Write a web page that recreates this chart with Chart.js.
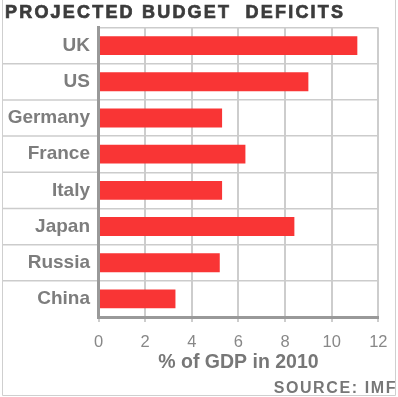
<!DOCTYPE html>
<html>
<head>
<meta charset="utf-8">
<script src="https://cdn.jsdelivr.net/npm/chart.js@4.4.1/dist/chart.umd.min.js"></script>
<style>
  html, body { margin: 0; padding: 0; background: #ffffff; }
  #wrap { position: absolute; left: 0; top: 0; width: 398px; height: 397px; }
</style>
</head>
<body>
<div id="wrap"><canvas id="c" width="398" height="397"></canvas></div>
<script>
const chartTitle = "PROJECTED BUDGET  DEFICITS";
const sourceNote = "SOURCE: IMF";
const xAxisTitle = "% of GDP in 2010";
const categories = ["UK", "US", "Germany", "France", "Italy", "Japan", "Russia", "China"];
const deficits = [11.1, 9.0, 5.3, 6.3, 5.3, 8.4, 5.2, 3.3];
const xTickValues = [0, 2, 4, 6, 8, 10, 12];

const FONT = "'Liberation Sans', Arial, Helvetica, sans-serif";

const decorPlugin = {
  id: 'decor',
  beforeDraw(chart) {
    const ctx = chart.ctx;
    const area = chart.chartArea;
    const y = chart.scales.y;
    ctx.save();
    // outer frame
    ctx.strokeStyle = '#cfcfcf';
    ctx.lineWidth = 1;
    ctx.beginPath();
    ctx.moveTo(2.5, 0); ctx.lineTo(2.5, 395.5);
    ctx.lineTo(395.5, 395.5); ctx.lineTo(395.5, 0);
    ctx.stroke();
    // separators extending into label area
    ctx.strokeStyle = '#cccccc';
    ctx.lineWidth = 1.5;
    for (let i = 1; i < categories.length; i++) {
      const py = y.getPixelForValue(i - 0.5);
      ctx.beginPath();
      ctx.moveTo(3, py);
      ctx.lineTo(area.left, py);
      ctx.stroke();
    }
    ctx.restore();
  },
  afterDraw(chart) {
    const ctx = chart.ctx;
    ctx.save();
    ctx.fillStyle = '#3c3c3c';
    ctx.strokeStyle = '#3c3c3c';
    ctx.lineWidth = 0.7;
    ctx.font = "bold 18px " + FONT;
    ctx.letterSpacing = '2.2px';
    ctx.textAlign = 'left';
    ctx.textBaseline = 'alphabetic';
    ctx.fillText(chartTitle, 5, 17.5);
    ctx.strokeText(chartTitle, 5, 17.5);
    ctx.fillStyle = '#777777';
    ctx.font = "bold 16px " + FONT;
    ctx.letterSpacing = '1.6px';
    ctx.textAlign = 'right';
    ctx.fillText(sourceNote, 397, 393);
    ctx.restore();
  }
};

new Chart(document.getElementById('c'), {
  type: 'bar',
  data: {
    labels: categories,
    datasets: [{
      data: deficits,
      backgroundColor: '#f93535',
      borderWidth: 0,
      barPercentage: 0.52,
      categoryPercentage: 1.0
    }]
  },
  options: {
    indexAxis: 'y',
    responsive: false,
    animation: false,
    devicePixelRatio: 1,
    layout: { padding: { top: 27.5, right: 16.5, bottom: 23, left: 0 } },
    plugins: {
      legend: { display: false },
      tooltip: { enabled: false },
      title: { display: false }
    },
    scales: {
      x: {
        min: 0,
        max: 12,
        afterBuildTicks(scale) { scale.ticks = xTickValues.map(v => ({ value: v })); },
        afterFit(scale) { scale.height = 57; },
        grid: { color: '#cdcdcd', lineWidth: 2, drawTicks: true, tickLength: 5, tickColor: '#cdcdcd' },
        border: { display: true, color: '#999999', width: 3, z: 1 },
        ticks: { color: '#888888', font: { family: FONT, size: 16.5 }, padding: 10.5 },
        title: {
          display: true, text: xAxisTitle, color: '#777777',
          font: { family: FONT, size: 19.5, weight: 'bold' },
          padding: { top: 0, bottom: 0 }
        }
      },
      y: {
        afterFit(scale) { scale.width = 98.5; },
        grid: { color: '#cccccc', lineWidth: 1.5, drawTicks: false, offset: true },
        border: { display: true, color: '#999999', width: 3, z: 1 },
        ticks: { color: '#7d7d7d', font: { family: FONT, size: 19, weight: 'bold' }, padding: 8.5 }
      }
    }
  },
  plugins: [decorPlugin]
});
</script>
</body>
</html>
